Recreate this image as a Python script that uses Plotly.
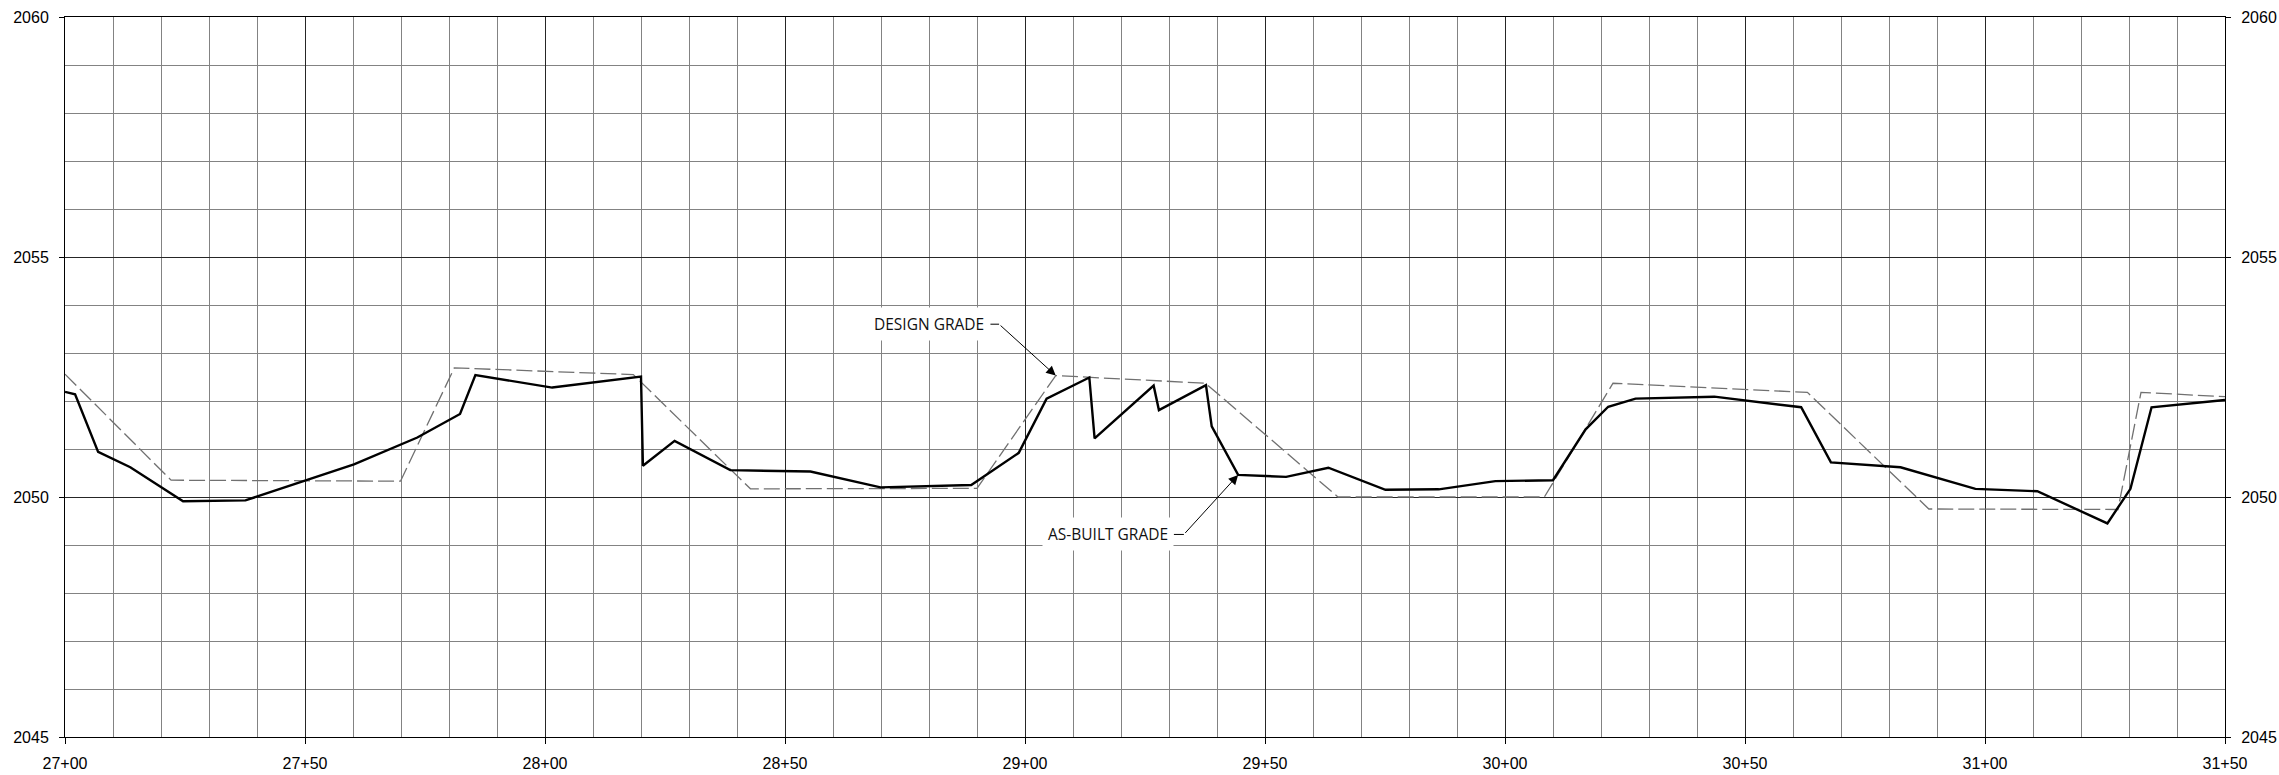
import plotly.graph_objects as go

# ---- data ----
station_ticks = [2700, 2750, 2800, 2850, 2900, 2950, 3000, 3050, 3100, 3150]
station_labels = ["27+00", "27+50", "28+00", "28+50", "29+00",
                  "29+50", "30+00", "30+50", "31+00", "31+50"]
elev_ticks = [2045, 2050, 2055, 2060]

design_sta = [2700.0, 2722.1, 2769.9, 2781.1, 2818.4, 2842.8, 2890.0, 2906.4,
              2937.6, 2965.2, 3008.2, 3022.5, 3063.0, 3088.3, 3127.7, 3132.5, 3150.0]
design_elev = [2052.56, 2050.35, 2050.33, 2052.69, 2052.55, 2050.17, 2050.18, 2052.53,
               2052.37, 2050.00, 2050.00, 2052.37, 2052.18, 2049.75, 2049.74, 2052.18, 2052.09]

asbuilt_sta = [2700.0, 2702.1, 2706.9, 2713.6, 2724.6, 2737.6, 2760.2, 2773.4, 2782.3,
               2785.5, 2801.5, 2820.0, 2820.4, 2827.0, 2838.6, 2855.3, 2869.9, 2888.8,
               2898.7, 2904.5, 2913.4, 2914.5, 2926.8, 2927.9, 2937.7, 2938.9, 2944.4,
               2954.4, 2963.2, 2975.1, 2986.2, 2998.0, 3010.0, 3016.8, 3021.5, 3027.2,
               3043.6, 3061.7, 3067.9, 3082.4, 3098.0, 3110.9, 3125.5, 3130.3, 3134.7,
               3150.0]
asbuilt_elev = [2052.19, 2052.14, 2050.94, 2050.62, 2049.91, 2049.93, 2050.68, 2051.24, 2051.73,
                2052.54, 2052.28, 2052.51, 2050.65, 2051.17, 2050.56, 2050.53, 2050.20, 2050.25,
                2050.92, 2052.05, 2052.49, 2051.22, 2052.32, 2051.81, 2052.33, 2051.47, 2050.46,
                2050.42, 2050.61, 2050.15, 2050.16, 2050.33, 2050.35, 2051.41, 2051.88, 2052.05,
                2052.09, 2051.87, 2050.72, 2050.62, 2050.17, 2050.12, 2049.45, 2050.17, 2051.87,
                2052.02]

# label callouts
label_text = ["DESIGN GRADE", "AS-BUILT GRADE"]
label_sta = [2892.8, 2931.0]
label_elev = [2053.60, 2049.22]
elbow_sta = [2894.6, 2933.1]
tip_sta = [2906.4, 2944.4]
tip_elev = [2052.53, 2050.46]

TICKFONT = dict(family="Liberation Sans, Arial, sans-serif", size=16, color="#000")
MAJOR = "#262626"
MINOR = "#838383"

fig = go.Figure()
fig.add_trace(go.Scatter(x=design_sta, y=design_elev, mode="lines",
                         line=dict(color="#707070", width=1.3, dash="16px,5px"),
                         showlegend=False, hoverinfo="skip"))
fig.add_trace(go.Scatter(x=asbuilt_sta, y=asbuilt_elev, mode="lines",
                         line=dict(color="#000000", width=2.4),
                         showlegend=False))
fig.add_trace(go.Scatter(x=asbuilt_sta, y=asbuilt_elev, mode="lines", yaxis="y2",
                         line=dict(color="rgba(0,0,0,0)", width=0), opacity=0,
                         showlegend=False, hoverinfo="skip"))

for t, xs, ys, xe, xt, yt in zip(label_text, label_sta, label_elev, elbow_sta, tip_sta, tip_elev):
    fig.add_annotation(x=xs, y=ys, xref="x", yref="y", text=t, showarrow=False,
                       xanchor="right", yanchor="middle", bgcolor="white", borderpad=5,
                       font=dict(family="Open Sans, sans-serif", size=15.5, color="#111"))
    fig.add_shape(type="line", xref="x", yref="y", x0=xs, x1=xe, y0=ys, y1=ys,
                  line=dict(color="#000", width=1))
    fig.add_annotation(x=xt, y=yt, xref="x", yref="y", ax=xe, ay=ys, axref="x", ayref="y",
                       text="", showarrow=True, arrowhead=2, arrowsize=1.9, arrowwidth=1,
                       arrowcolor="#000", standoff=0, startstandoff=0)

fig.update_layout(
    template=None,
    width=2279, height=775, autosize=False,
    margin=dict(l=65, r=54, t=17, b=38, pad=0, autoexpand=False),
    paper_bgcolor="white", plot_bgcolor="white",
    showlegend=False,
    xaxis=dict(range=[2700, 3150], tickmode="array", tickvals=station_ticks, ticktext=station_labels,
               ticks="outside", ticklen=6, tickwidth=1, tickcolor="#000", automargin=False,
               showgrid=True, gridcolor=MAJOR, gridwidth=1,
               minor=dict(tickmode="linear", tick0=2700, dtick=10, showgrid=True,
                          gridcolor=MINOR, gridwidth=1, ticks=""),
               showline=True, linecolor="#000", linewidth=1, mirror=True,
               zeroline=False, tickfont=TICKFONT, ticklabelstandoff=6),
    yaxis=dict(range=[2045, 2060], tickmode="array", tickvals=elev_ticks,
               ticks="outside", ticklen=5, tickwidth=1, tickcolor="#000", automargin=False,
               showgrid=True, gridcolor=MAJOR, gridwidth=1,
               minor=dict(tickmode="linear", tick0=2045, dtick=1, showgrid=True,
                          gridcolor=MINOR, gridwidth=1, ticks=""),
               showline=True, linecolor="#000", linewidth=1, mirror=True,
               zeroline=False, tickfont=TICKFONT, ticklabelstandoff=7),
    yaxis2=dict(range=[2045, 2060], overlaying="y", side="right", tickmode="array",
                tickvals=elev_ticks, ticks="outside", ticklen=5, tickwidth=1, tickcolor="#000",
                automargin=False, showgrid=False, showline=False, zeroline=False,
                tickfont=TICKFONT, ticklabelstandoff=7),
)

fig.write_html("out.html", config={"displayModeBar": False},
               post_script="document.body.style.margin='0';document.body.style.overflow='hidden';")
